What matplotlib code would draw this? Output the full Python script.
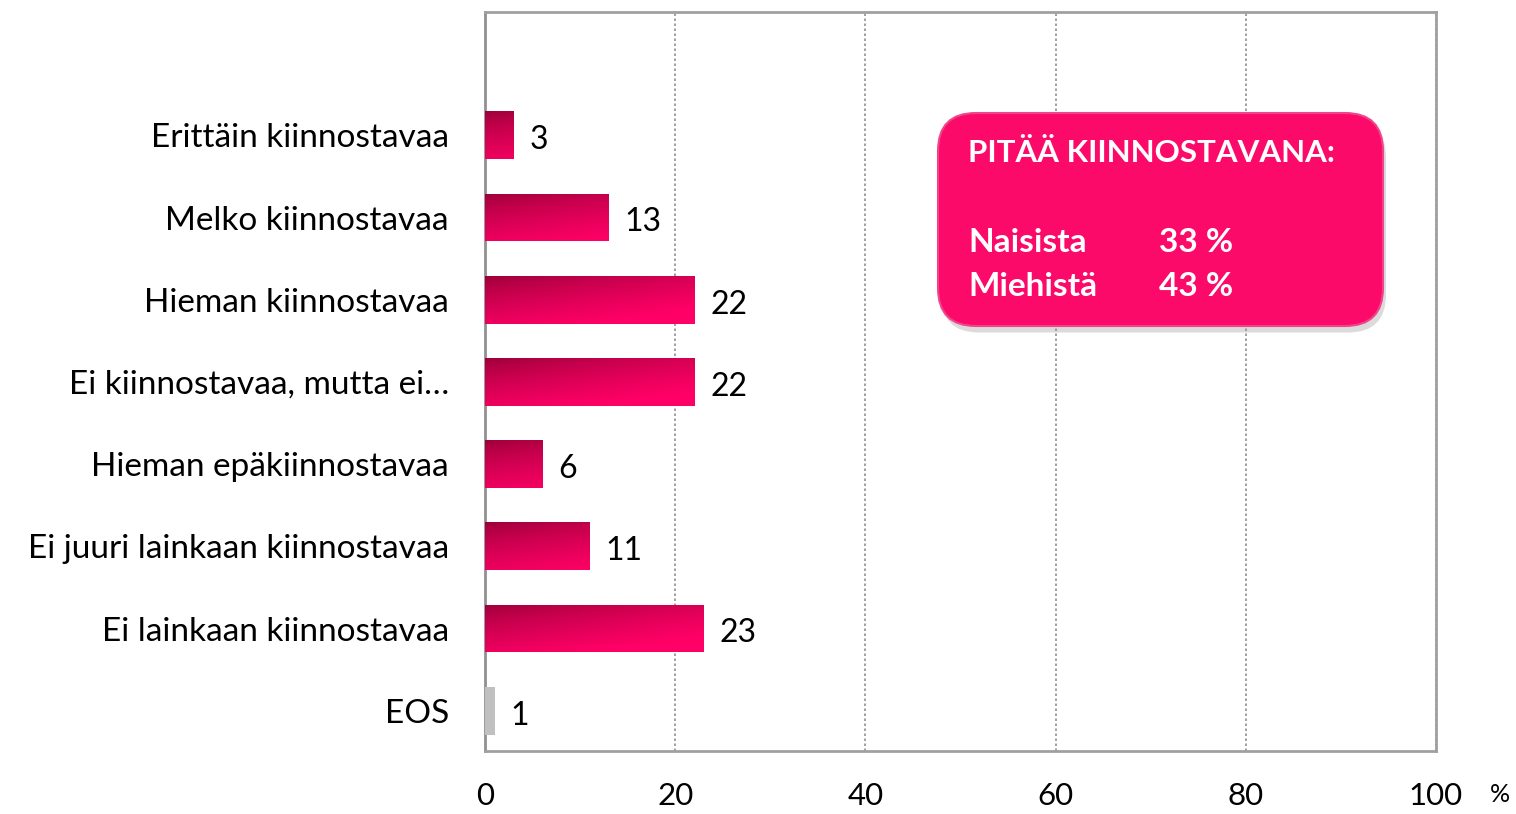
import numpy as np
import matplotlib
matplotlib.use('Agg')
import matplotlib.pyplot as plt
from matplotlib.patches import FancyBboxPatch

plt.rcParams['font.family'] = ['Lato', 'DejaVu Sans']

categories = ['Erittäin kiinnostavaa', 'Melko kiinnostavaa', 'Hieman kiinnostavaa',
              'Ei kiinnostavaa, mutta ei…', 'Hieman epäkiinnostavaa',
              'Ei juuri lainkaan kiinnostavaa', 'Ei lainkaan kiinnostavaa', 'EOS']
values = [3, 13, 22, 22, 6, 11, 23, 1]
box_title = 'PITÄÄ KIINNOSTAVANA:'
box_rows = ['Naisista', 'Miehistä']
box_values = ['33 %', '43 %']

fig = plt.figure(figsize=(15.16, 8.14), dpi=100)
ax = fig.add_axes([485 / 1516, 63 / 814, 951 / 1516, 739 / 814])

ypos = np.arange(len(categories))
bar_h = 0.58
dark = np.array([0.60, 0.0, 0.22])
bright = np.array([1.0, 0.0, 0.40])

for y, v in zip(ypos, values):
    if categories[y] == 'EOS':
        ax.barh(y, v, height=bar_h, color='#c0c0c0', zorder=3)
    else:
        bar = ax.barh(y, v, height=bar_h, color='none', zorder=3)[0]
        nx, ny = 200, 40
        xx = np.linspace(0, v / 25.0, nx)
        yy = np.linspace(0, 1, ny)
        X, Y = np.meshgrid(xx, yy)
        t = np.clip(0.55 * X + 0.75 * Y, 0, 1) ** 0.7
        img = dark[None, None, :] * (1 - t[..., None]) + bright[None, None, :] * t[..., None]
        im = ax.imshow(img, extent=(0, v, y + bar_h / 2, y - bar_h / 2),
                       aspect='auto', zorder=3, interpolation='bilinear')
        im.set_clip_path(bar)
    ax.text(v + 1.7, y + 0.06, str(v), va='center', ha='left', fontsize=23, color='black')

ax.set_xlim(0, 100)
ax.set_ylim(7.49, -1.5)
ax.set_yticks(ypos)
ax.set_yticklabels(categories, fontsize=24)
ax.set_xticks([0, 20, 40, 60, 80, 100])
ax.tick_params(axis='x', labelsize=22.5, length=0, pad=22)
ax.tick_params(axis='y', length=0, pad=26)
ax.grid(axis='x', linestyle=(0, (1.5, 1.5)), color='#909090', linewidth=1.2, zorder=0)
for s in ax.spines.values():
    s.set_color('#a0a0a0')
    s.set_linewidth(2)
ax.spines['left'].set_color('#909090')
ax.set_axisbelow(True)

fig.text(1500 / 1516, 1 - 795 / 814, '%', fontsize=18, ha='center', va='center')

# info box
bx0, bx1 = 938 / 1516, 1383 / 1516
by0, by1 = 1 - 326 / 814, 1 - 113 / 814
shadow = FancyBboxPatch((bx0 + 0.002, by0 - 0.008), bx1 - bx0, by1 - by0,
                        boxstyle='round,pad=0,rounding_size=0.025',
                        transform=fig.transFigure, facecolor='#999999', alpha=0.35,
                        edgecolor='none', zorder=5, mutation_aspect=1516 / 814)
box = FancyBboxPatch((bx0, by0), bx1 - bx0, by1 - by0,
                     boxstyle='round,pad=0,rounding_size=0.025',
                     transform=fig.transFigure, facecolor='#fb0a6a',
                     edgecolor='#f0458a', linewidth=1.5, zorder=6,
                     mutation_aspect=1516 / 814)
fig.patches.extend([shadow, box])

fig.text(968 / 1516, 1 - 153 / 814, box_title, color='white', fontsize=22.5,
         fontweight='bold', va='center', ha='left', zorder=7)
for i, (r, val) in enumerate(zip(box_rows, box_values)):
    yy = 1 - (242 + 45 * i) / 814
    fig.text(968 / 1516, yy, r, color='white', fontsize=24, fontweight='bold',
             va='center', ha='left', zorder=7)
    fig.text(1159 / 1516, yy, val, color='white', fontsize=24, fontweight='bold',
             va='center', ha='left', zorder=7)

fig.savefig('out.png', dpi=100)
